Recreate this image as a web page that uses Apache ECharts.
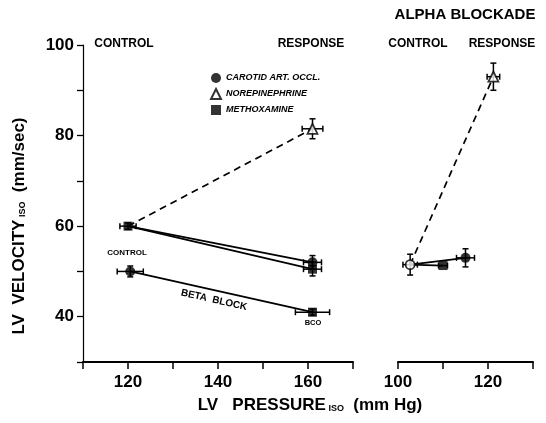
<!DOCTYPE html>
<html>
<head>
<meta charset="utf-8">
<script src="https://cdn.jsdelivr.net/npm/echarts@6/dist/echarts.min.js"></script>
<style>
  html, body { margin: 0; padding: 0; background: #fff; }
  #chart { width: 546px; height: 423px; }
</style>
</head>
<body>
<div id="chart"></div>
<script>
    var myChart = echarts.init(document.getElementById('chart'));
    var FONT = '"Liberation Sans", Arial, sans-serif';

    // tick labels
    var leftXLabels = [120, 140, 160];
    var rightXLabels = [100, 120];
    var yLabels = [40, 60, 80, 100];

    // left panel: [pressure, velocity]
    var leftControl = [120, 60];
    var leftCarotid = [161, 52];
    var leftNorepi = [161, 81.5];
    var leftMethox = [161, 50.5];
    var betaControl = [120.5, 50];
    var betaBco = [161, 41];

    // right panel, alpha blockade
    var alphaControl = [102.7, 51.5];
    var alphaMethox = [110, 51.3];
    var alphaCarotid = [115, 53];
    var alphaNorepi = [121.2, 93];

    // error half widths [pressure, velocity]
    var errLeftControl = [1.8, 0.7];
    var errLeftCarotid = [2, 1.5];
    var errLeftNorepi = [2.3, 2.2];
    var errLeftMethox = [2, 1.5];
    var errBetaControl = [2.9, 1.2];
    var errBetaBco = [3.8, 0.7];
    var errAlphaControl = [1.6, 2.3];
    var errAlphaMethox = [1, 0];
    var errAlphaCarotid = [2, 2];
    var errAlphaNorepi = [1.4, 3];

function withErr(p, e) { return [p[0], p[1], e[0], e[1]]; }

function renderErr(params, api) {
    var x = api.value(0), y = api.value(1), ex = api.value(2), ey = api.value(3);
    var cap = 3;
    var st = { stroke: '#000', lineWidth: 1.5 };
    var kids = [];
    if (ex > 0) {
        var l = api.coord([x - ex, y]), r = api.coord([x + ex, y]);
        kids.push({ type: 'line', shape: { x1: l[0], y1: l[1], x2: r[0], y2: r[1] }, style: st });
        kids.push({ type: 'line', shape: { x1: l[0], y1: l[1] - cap, x2: l[0], y2: l[1] + cap }, style: st });
        kids.push({ type: 'line', shape: { x1: r[0], y1: r[1] - cap, x2: r[0], y2: r[1] + cap }, style: st });
    }
    if (ey > 0) {
        var t = api.coord([x, y + ey]), b = api.coord([x, y - ey]);
        kids.push({ type: 'line', shape: { x1: t[0], y1: t[1], x2: b[0], y2: b[1] }, style: st });
        kids.push({ type: 'line', shape: { x1: t[0] - cap, y1: t[1], x2: t[0] + cap, y2: t[1] }, style: st });
        kids.push({ type: 'line', shape: { x1: b[0] - cap, y1: b[1], x2: b[0] + cap, y2: b[1] }, style: st });
    }
    return { type: 'group', children: kids };
}

function lineSeries(data, dashed, gi) {
    return {
        type: 'line', name: 'link', data: data, xAxisIndex: gi, yAxisIndex: gi,
        symbol: 'none', silent: true, z: 2,
        lineStyle: { color: '#000', width: 1.7, type: dashed ? [7, 5] : 'solid' }
    };
}

function markSeries(name, data, symbol, size, filled, gi) {
    return {
        type: 'scatter', name: name, data: data, xAxisIndex: gi, yAxisIndex: gi,
        symbol: symbol, symbolSize: size, z: 5,
        itemStyle: { color: filled ? '#000' : '#fff', borderColor: '#000', borderWidth: filled ? 0 : 1.8 }
    };
}

function errSeries(data, gi) {
    return {
        type: 'custom', name: 'err', data: data, xAxisIndex: gi, yAxisIndex: gi,
        renderItem: renderErr, encode: { x: 0, y: 1 }, silent: true, z: 4
    };
}

function xAxisCfg(gi, min, max, labels) {
    return {
        gridIndex: gi, type: 'value', min: min, max: max, interval: 10,
        axisLine: { lineStyle: { color: '#000', width: 2 } },
        axisTick: { inside: false, length: 7, lineStyle: { color: '#000', width: 1.5 } },
        axisLabel: {
            color: '#000', fontFamily: FONT, fontSize: 17, fontWeight: 'bold', margin: 12,
            formatter: function (v) { return labels.indexOf(v) >= 0 ? String(v) : ''; }
        },
        splitLine: { show: false }
    };
}

function yAxisCfg(gi, show) {
    return {
        gridIndex: gi, type: 'value', min: 30, max: 100, interval: 10, show: show,
        axisLine: { show: true, lineStyle: { color: '#000', width: 1.2 } },
        axisTick: { length: 6, lineStyle: { color: '#000', width: 1.3 } },
        axisLabel: {
            color: '#000', fontFamily: FONT, fontSize: 17, fontWeight: 'bold', margin: 9,
            formatter: function (v) { return yLabels.indexOf(v) >= 0 ? String(v) : ''; }
        },
        splitLine: { show: false }
    };
}

function chart_setOption() {
    var txt = function (text, x, y, size, extra) {
        var s = { text: text, x: x, y: y, fill: '#000', fontFamily: FONT, fontSize: size,
            fontWeight: 'bold', align: 'center', verticalAlign: 'middle' };
        for (var k in (extra || {})) s[k] = extra[k];
        return { type: 'text', style: s, z: 10 };
    };
    var richTitle = {
        a: { fontFamily: FONT, fontSize: 17, fontWeight: 'bold', fill: '#000' },
        s: { fontFamily: FONT, fontSize: 9, fontWeight: 'bold', fill: '#000', padding: [8, 0, 0, 0] }
    };
    var option = {
        backgroundColor: '#fff',
        animation: false,
        grid: [
            { left: 83, right: 193, top: 45, bottom: 61 },
            { left: 398, right: 13, top: 45, bottom: 61 }
        ],
        xAxis: [xAxisCfg(0, 110, 170, leftXLabels), xAxisCfg(1, 100, 130, rightXLabels)],
        yAxis: [yAxisCfg(0, true), yAxisCfg(1, false)],
        legend: {
            orient: 'vertical', left: 205, top: 68, itemWidth: 10, itemHeight: 10, itemGap: 5,
            data: [
                { name: 'CAROTID ART. OCCL.', icon: 'circle' },
                { name: 'NOREPINEPHRINE', icon: 'triangle' },
                { name: 'METHOXAMINE', icon: 'rect' }
            ],
            textStyle: { color: '#000', fontFamily: FONT, fontSize: 9, fontStyle: 'italic', fontWeight: 'bold' },
            selectedMode: false
        },
        graphic: [
            txt('ALPHA BLOCKADE', 465, 15, 15),
            txt('CONTROL', 124, 44, 12),
            txt('RESPONSE', 311, 44, 12),
            txt('CONTROL', 418, 44, 12),
            txt('RESPONSE', 502, 44, 12),
            txt('CONTROL', 127, 253, 8),
            txt('BCO', 313, 323, 7.5),
            { type: 'text', x: 214, y: 300, rotation: -0.22, z: 10,
              style: { text: 'BETA  BLOCK', fill: '#000', fontFamily: FONT, fontSize: 10, fontWeight: 'bold',
                       align: 'center', verticalAlign: 'middle' } },
            { type: 'text', x: 19, y: 226, rotation: Math.PI / 2, z: 10,
              style: { text: '{a|LV  VELOCITY}{s| ISO}{a|  (mm/sec)}', fill: '#000', align: 'center', verticalAlign: 'middle',
                       rich: richTitle } },
            { type: 'text', x: 310, y: 405, z: 10,
              style: { text: '{a|LV   PRESSURE}{s| ISO}{a|  (mm Hg)}', fill: '#000', align: 'center', verticalAlign: 'middle',
                       rich: richTitle } }
        ],
        series: [
            lineSeries([leftControl, leftNorepi], true, 0),
            lineSeries([leftControl, leftCarotid], false, 0),
            lineSeries([leftControl, leftMethox], false, 0),
            lineSeries([betaControl, betaBco], false, 0),
            lineSeries([alphaControl, alphaNorepi], true, 1),
            lineSeries([alphaControl, alphaMethox], false, 1),
            lineSeries([alphaControl, alphaCarotid], false, 1),
            errSeries([withErr(leftControl, errLeftControl), withErr(leftCarotid, errLeftCarotid),
                       withErr(leftNorepi, errLeftNorepi), withErr(leftMethox, errLeftMethox),
                       withErr(betaControl, errBetaControl), withErr(betaBco, errBetaBco)], 0),
            errSeries([withErr(alphaControl, errAlphaControl), withErr(alphaMethox, errAlphaMethox),
                       withErr(alphaCarotid, errAlphaCarotid), withErr(alphaNorepi, errAlphaNorepi)], 1),
            markSeries('CAROTID ART. OCCL.', [leftCarotid, betaControl], 'circle', 10, true, 0),
            markSeries('CAROTID ART. OCCL.', [alphaCarotid], 'circle', 10, true, 1),
            markSeries('NOREPINEPHRINE', [leftNorepi], 'triangle', 10, false, 0),
            markSeries('NOREPINEPHRINE', [alphaNorepi], 'triangle', 10, false, 1),
            markSeries('METHOXAMINE', [leftMethox, betaBco, leftControl], 'rect', 9, true, 0),
            markSeries('METHOXAMINE', [alphaMethox], 'rect', 9, true, 1),
            markSeries('control', [alphaControl], 'circle', 9, false, 1)
        ]
    };
    return option;
}

    myChart.setOption(chart_setOption());
</script>
</body>
</html>
